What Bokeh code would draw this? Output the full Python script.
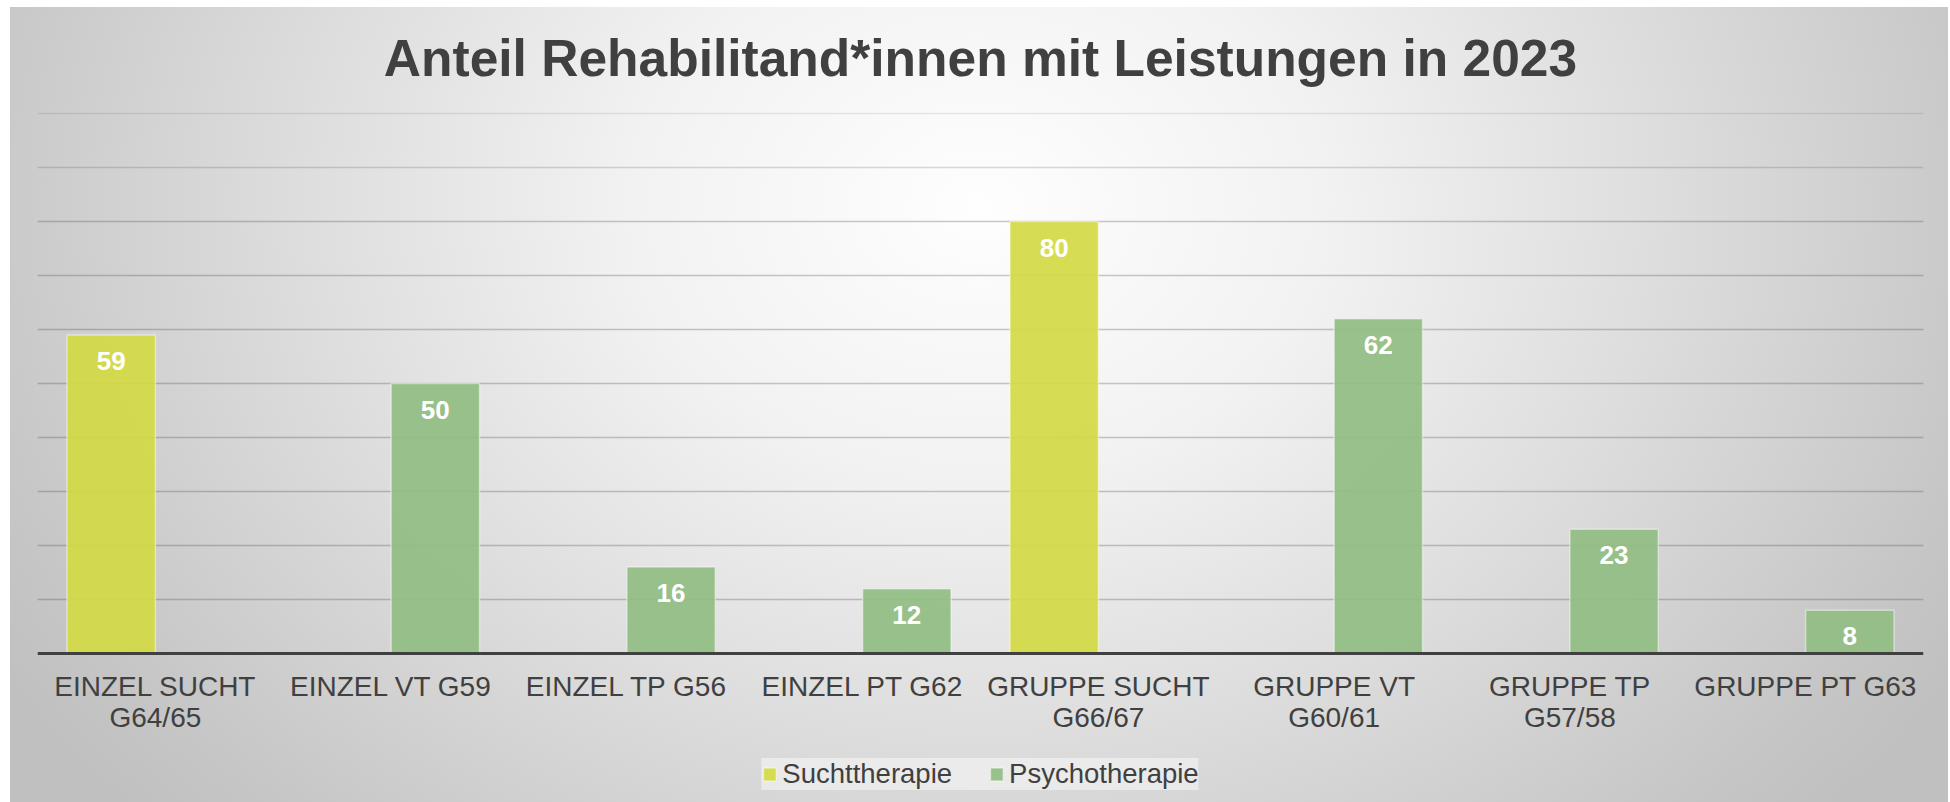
from bokeh.plotting import figure
from bokeh.models import (FactorRange, Range1d, ColumnDataSource, LabelSet, Legend,
                          LegendItem, Grid, FixedTicker)
from bokeh.core.properties import value
from bokeh.transform import dodge
from bokeh.embed import file_html
from bokeh.resources import INLINE

# ---- data ----
categories = ["EINZEL SUCHT\nG64/65", "EINZEL VT G59", "EINZEL TP G56", "EINZEL PT G62",
              "GRUPPE SUCHT\nG66/67", "GRUPPE VT\nG60/61", "GRUPPE TP\nG57/58", "GRUPPE PT G63"]
sucht = [59, None, None, None, 80, None, None, None]
psycho = [None, 50, 16, 12, None, 62, 23, 8]
series_names = ["Suchttherapie", "Psychotherapie"]
title_text = "Anteil Rehabilitand*innen mit Leistungen in 2023"
grid_ticks_main = [10, 20, 30, 40, 50, 60, 70, 80]
grid_ticks_upper = [90]
grid_ticks_top = [100]

FONT = "Liberation Sans"
TXT = "#404040"
C_SUCHT = "#d4da44"
C_PSYCHO = "#91bd82"

# layout in pixels
PX_PER_UNIT = 5.4      # vertical scale
FRAME_TOP = 79         # canvas px of the frame top (title sits just above)
TOP_LINE = 106         # canvas px where the value 100 lies
BOTTOM_SPACE = 149     # px from the value 0 to the canvas bottom


def make_source(vals):
    cats = [c for c, v in zip(categories, vals) if v is not None]
    vs = [v for v in vals if v is not None]
    return ColumnDataSource(dict(cat=cats, val=vs, txt=[str(v) for v in vs]))


s_sucht = make_source(sucht)
s_psycho = make_source(psycho)

p = figure(x_range=FactorRange(*categories),
           y_range=Range1d(-BOTTOM_SPACE / PX_PER_UNIT,
                           100 + (TOP_LINE - FRAME_TOP) / PX_PER_UNIT),
           width=1938, height=795, output_backend="svg", toolbar_location=None,
           min_border_left=27, min_border_right=25, min_border_top=FRAME_TOP,
           min_border_bottom=0)
p.margin = (7, 0, 0, 10)

p.styles = {"background": "radial-gradient(ellipse 1150px 900px at 50% 25%, #fefefe 0%, "
                          "#f2f2f2 30%, #dedede 58%, #c6c6c6 90%, #c0c0c0 100%)"}
p.background_fill_color = None
p.border_fill_color = None
p.outline_line_color = None

# title
p.title.text = title_text
p.title.align = "center"
p.title.text_font = FONT
p.title.text_font_size = "51.5px"
p.title.text_font_style = "bold"
p.title.text_color = TXT
p.title.standoff = 0

# grids
p.xgrid.visible = False
p.ygrid.ticker = FixedTicker(ticks=grid_ticks_main)
p.ygrid.grid_line_color = "#404040"
p.ygrid.grid_line_alpha = 0.28
p.ygrid.grid_line_width = 1.5
g90 = Grid(dimension=1, ticker=FixedTicker(ticks=grid_ticks_upper),
           grid_line_color="#404040", grid_line_alpha=0.2, grid_line_width=1.5)
g100 = Grid(dimension=1, ticker=FixedTicker(ticks=grid_ticks_top),
            grid_line_color="#404040", grid_line_alpha=0.12, grid_line_width=1.5)
p.add_layout(g90)
p.add_layout(g100)

# axes
p.yaxis.visible = False
xa = p.xaxis[0]
xa.fixed_location = 0
xa.axis_line_color = TXT
xa.axis_line_width = 3
xa.major_tick_line_color = None
xa.minor_tick_line_color = None
xa.major_tick_out = 0
xa.major_tick_in = 0
xa.major_label_standoff = 17
xa.major_label_text_font = FONT
xa.major_label_text_font_size = "28px"
xa.major_label_text_color = TXT
xa.major_label_text_line_height = 1.0

# bars
r1 = p.vbar(x=dodge("cat", -0.1875, range=p.x_range), top="val", width=0.375, source=s_sucht,
            fill_color=C_SUCHT, fill_alpha=0.92, line_color="white", line_alpha=0.45, line_width=1.5)
r2 = p.vbar(x=dodge("cat", 0.1875, range=p.x_range), top="val", width=0.375, source=s_psycho,
            fill_color=C_PSYCHO, fill_alpha=0.92, line_color="white", line_alpha=0.45, line_width=1.5)

for src, off in ((s_sucht, -0.1875), (s_psycho, 0.1875)):
    lbl = LabelSet(x=dodge("cat", off, range=p.x_range), y="val", text="txt", source=src,
                   y_offset=-26, text_align="center", text_baseline="middle",
                   text_color="white", text_font=value(FONT), text_font_size=value("26px"),
                   text_font_style="bold")
    p.add_layout(lbl)

legend = Legend(items=[LegendItem(label=series_names[0], renderers=[r1]),
                       LegendItem(label=series_names[1], renderers=[r2])],
                orientation="horizontal", location="bottom_center",
                glyph_width=16, glyph_height=16, label_standoff=5, spacing=36,
                padding=8, margin=12,
                label_text_font=FONT, label_text_font_size="27.5px", label_text_color=TXT,
                background_fill_color="white", background_fill_alpha=0.45,
                border_line_color=None)
p.add_layout(legend)

open("out.html", "w").write(file_html(p, INLINE))
